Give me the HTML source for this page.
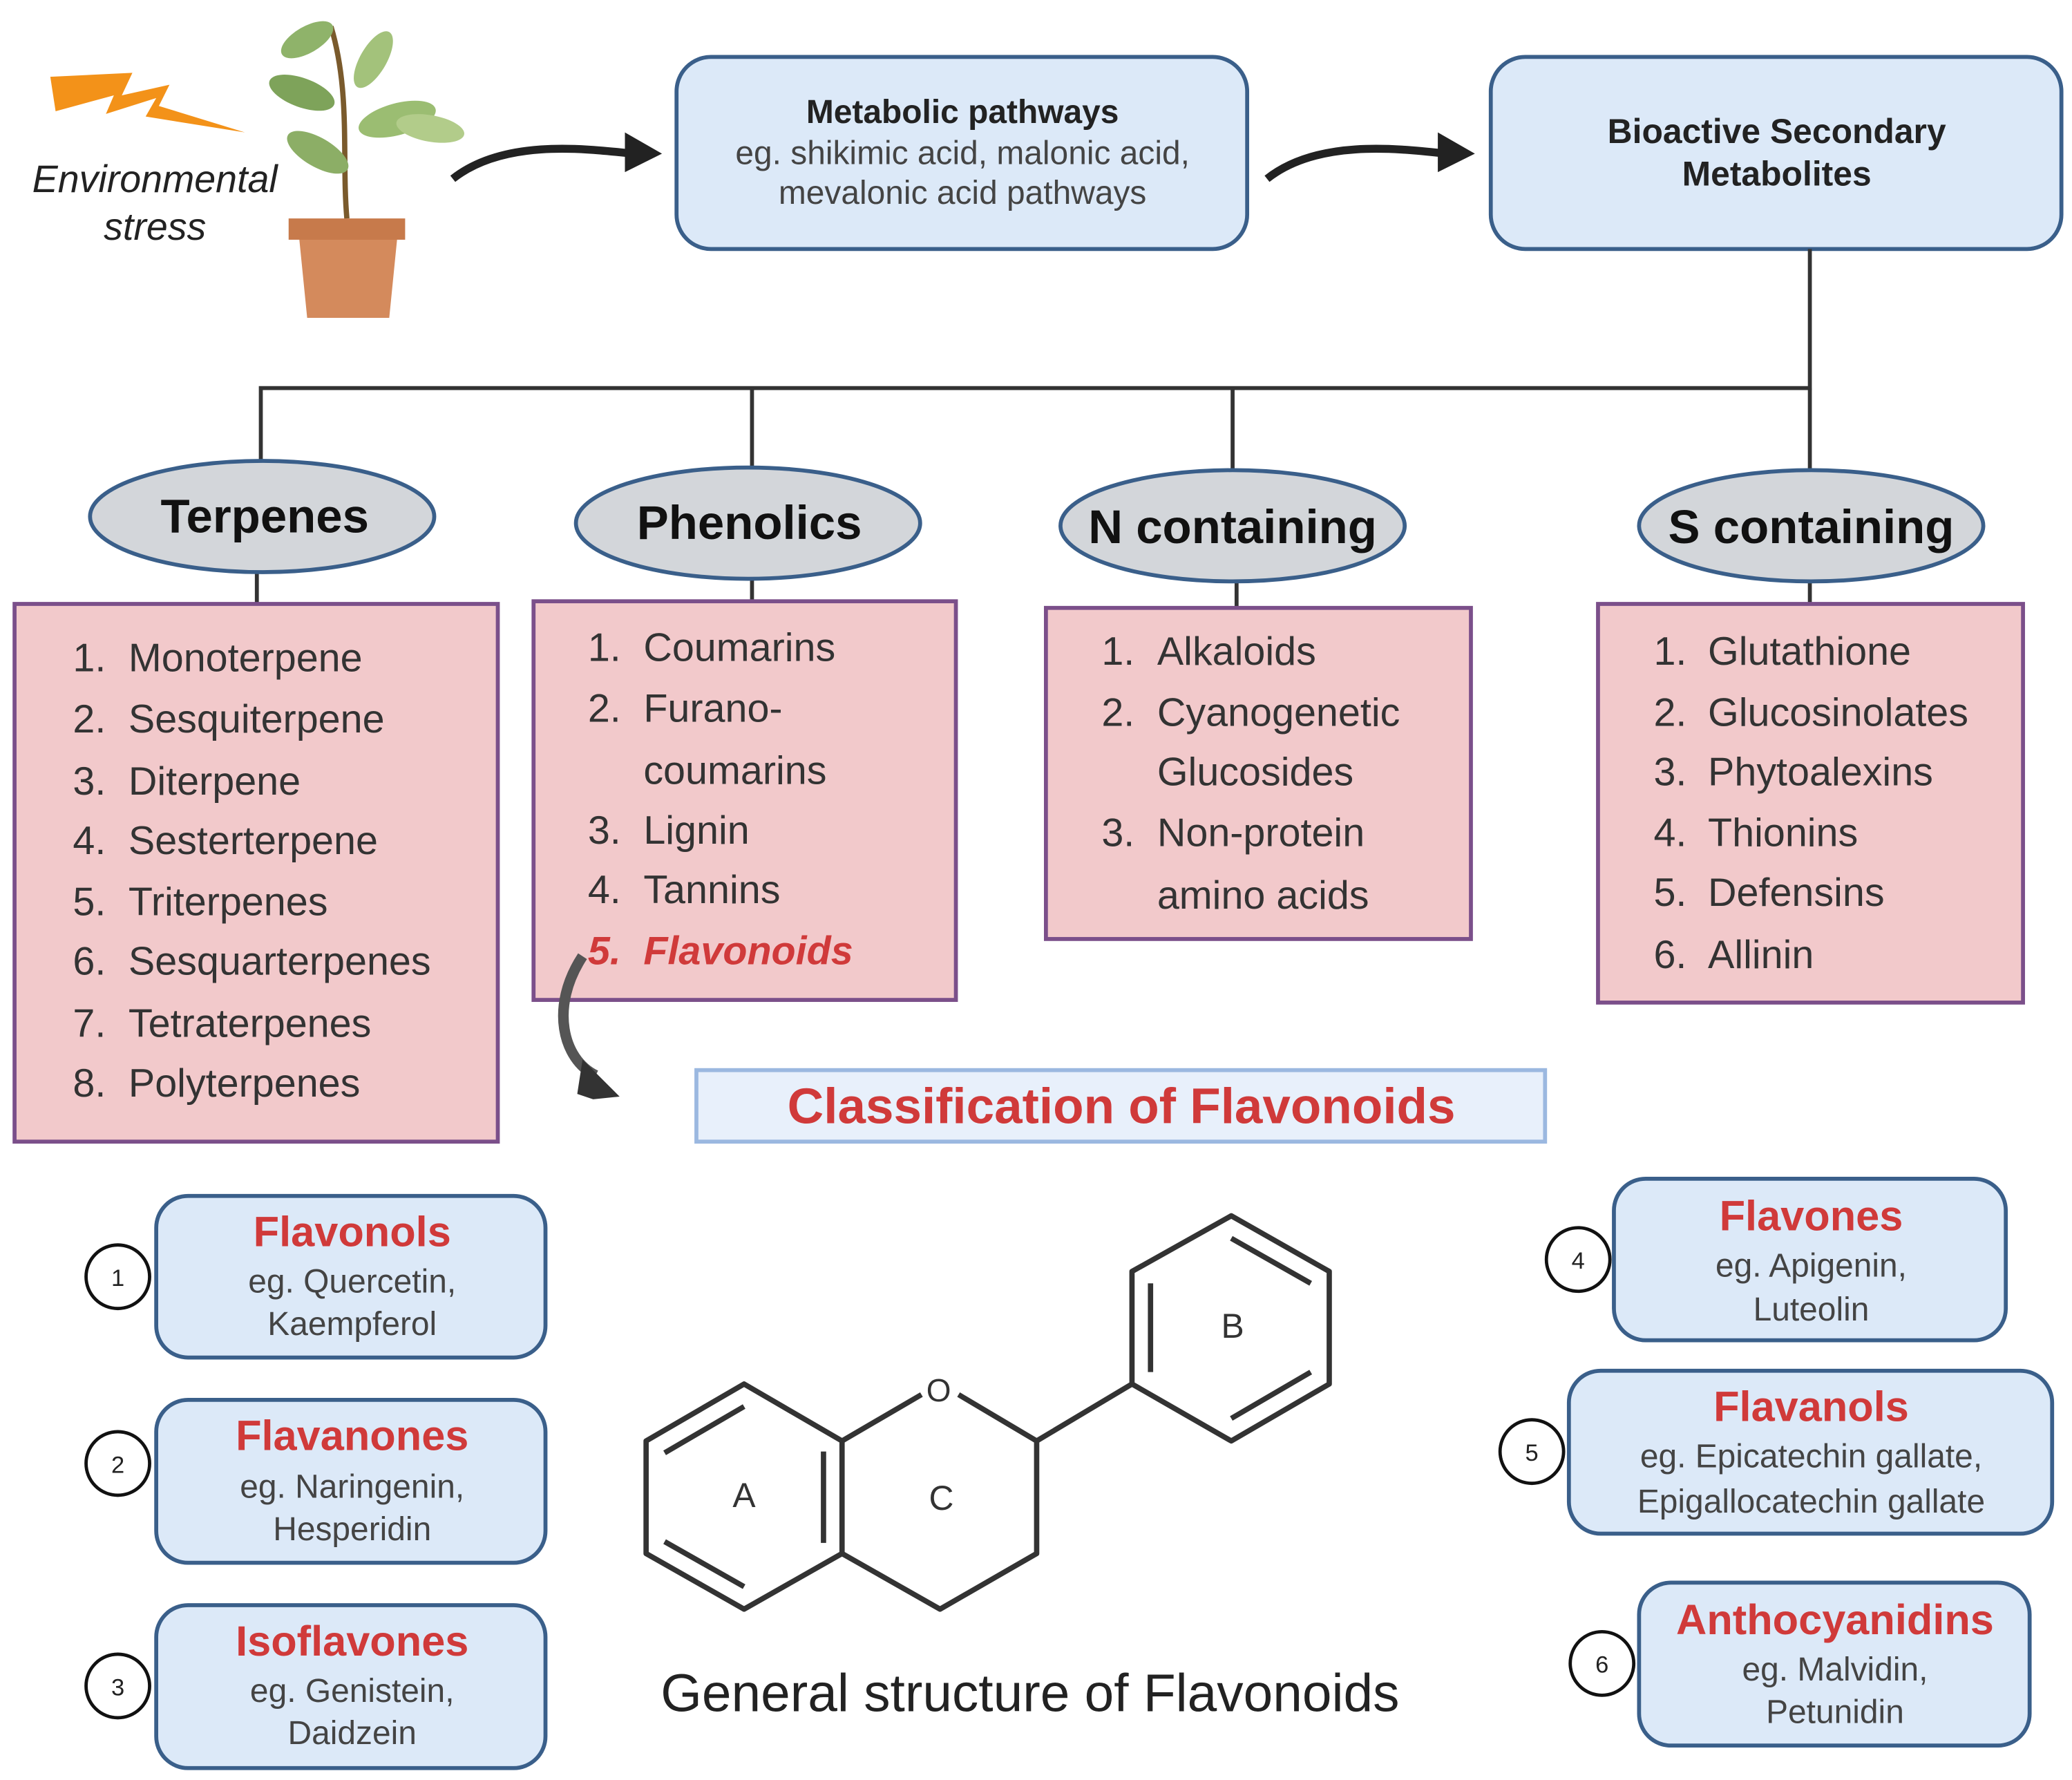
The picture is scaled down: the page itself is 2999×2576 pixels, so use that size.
<!DOCTYPE html>
<html><head><meta charset="utf-8"><style>
html,body{margin:0;padding:0;background:#fff;}
svg{display:block;}
text{font-family:"Liberation Sans",sans-serif;}
</style></head><body>
<svg width="2999" height="2576" viewBox="0 0 1565 1344" preserveAspectRatio="none" xmlns="http://www.w3.org/2000/svg">
<rect width="1565" height="1344" fill="#fff"/>
<!-- lightning -->
<polygon points="38,58 100,55 92,72 128,64 120,80 185,100 110,88 118,74 80,86 86,72 42,84" fill="#f39219"/>
<text x="117" y="145" font-size="29" font-style="italic" text-anchor="middle" fill="#222">Environmental</text>
<text x="117" y="181" font-size="29" font-style="italic" text-anchor="middle" fill="#222">stress</text>
<!-- plant -->
<path d="M262,165 C258,120 265,70 250,20" stroke="#7a5a2c" stroke-width="4" fill="none"/>
<ellipse cx="232" cy="30" rx="22" ry="10" fill="#8fb36a" transform="rotate(-30 232 30)"/>
<ellipse cx="282" cy="45" rx="24" ry="10" fill="#a3c27b" transform="rotate(-60 282 45)"/>
<ellipse cx="228" cy="70" rx="26" ry="11" fill="#7ea35a" transform="rotate(20 228 70)"/>
<ellipse cx="300" cy="90" rx="30" ry="12" fill="#9bbd72" transform="rotate(-15 300 90)"/>
<ellipse cx="240" cy="115" rx="26" ry="11" fill="#8cae66" transform="rotate(30 240 115)"/>
<ellipse cx="325" cy="97" rx="26" ry="10" fill="#b2cc8a" transform="rotate(10 325 97)"/>
<polygon points="218,165 306,165 300,180 294,240 232,240 226,180" fill="#d48a5c"/>
<rect x="218" y="165" width="88" height="16" fill="#c77a4b"/>
<!-- top arrows -->
<path d="M342,135 C380,105 440,112 478,116" stroke="#222" stroke-width="6" fill="none"/>
<polygon points="472,100 500,116 472,130" fill="#222"/>
<path d="M957,135 C995,105 1055,112 1092,116" stroke="#222" stroke-width="6" fill="none"/>
<polygon points="1086,100 1114,116 1086,130" fill="#222"/>
<!-- top boxes -->
<rect x="511" y="43" width="431" height="145" rx="26" fill="#dce9f8" stroke="#3a5f8a" stroke-width="3"/>
<text x="727" y="93" font-size="25" font-weight="bold" text-anchor="middle" fill="#222">Metabolic pathways</text>
<text x="727" y="124" font-size="25" text-anchor="middle" fill="#444">eg. shikimic acid, malonic acid,</text>
<text x="727" y="154" font-size="25" text-anchor="middle" fill="#444">mevalonic acid pathways</text>
<rect x="1126" y="43" width="431" height="145" rx="26" fill="#dce9f8" stroke="#3a5f8a" stroke-width="3"/>
<text x="1342" y="108" font-size="26" font-weight="bold" text-anchor="middle" fill="#222">Bioactive Secondary</text>
<text x="1342" y="140" font-size="26" font-weight="bold" text-anchor="middle" fill="#222">Metabolites</text>
<!-- connectors -->
<g stroke="#333" stroke-width="3" fill="none">
<path d="M1367,188 V293 H197 V350"/>
<path d="M568,293 V354"/><path d="M931,293 V356"/><path d="M1367,293 V356"/>
<path d="M194,432 V456"/><path d="M568,437 V454"/><path d="M934,439 V459"/><path d="M1367,439 V456"/>
</g>
<!-- ellipses -->
<g fill="#d3d6da" stroke="#3a5f8a" stroke-width="3">
<ellipse cx="198" cy="390" rx="130" ry="42"/>
<ellipse cx="565" cy="395" rx="130" ry="42"/>
<ellipse cx="931" cy="397" rx="130" ry="42"/>
<ellipse cx="1368" cy="397" rx="130" ry="42"/>
</g>
<g font-size="36" font-weight="bold" text-anchor="middle" fill="#111">
<text x="200" y="402">Terpenes</text>
<text x="566" y="407">Phenolics</text>
<text x="931" y="410">N containing</text>
<text x="1368" y="410">S containing</text>
</g>
<!-- pink boxes -->
<g fill="#f2c9cb" stroke="#7b4f8a" stroke-width="3">
<rect x="11" y="456" width="365" height="406"/>
<rect x="403" y="454" width="319" height="301"/>
<rect x="790" y="459" width="321" height="250"/>
<rect x="1207" y="456" width="321" height="301"/>
</g>
<g font-size="30" fill="#333">
<text x="55" y="507">1.</text><text x="97" y="507">Monoterpene</text>
<text x="55" y="553">2.</text><text x="97" y="553">Sesquiterpene</text>
<text x="55" y="600">3.</text><text x="97" y="600">Diterpene</text>
<text x="55" y="645">4.</text><text x="97" y="645">Sesterterpene</text>
<text x="55" y="691">5.</text><text x="97" y="691">Triterpenes</text>
<text x="55" y="736">6.</text><text x="97" y="736">Sesquarterpenes</text>
<text x="55" y="783">7.</text><text x="97" y="783">Tetraterpenes</text>
<text x="55" y="828">8.</text><text x="97" y="828">Polyterpenes</text>

<text x="444" y="499">1.</text><text x="486" y="499">Coumarins</text>
<text x="444" y="545">2.</text><text x="486" y="545">Furano-</text>
<text x="486" y="592">coumarins</text>
<text x="444" y="637">3.</text><text x="486" y="637">Lignin</text>
<text x="444" y="682">4.</text><text x="486" y="682">Tannins</text>
<text x="444" y="728" fill="#d03a3a" font-style="italic" font-weight="bold">5.</text><text x="486" y="728" fill="#d03a3a" font-style="italic" font-weight="bold">Flavonoids</text>

<text x="832" y="502">1.</text><text x="874" y="502">Alkaloids</text>
<text x="832" y="548">2.</text><text x="874" y="548">Cyanogenetic</text>
<text x="874" y="593">Glucosides</text>
<text x="832" y="639">3.</text><text x="874" y="639">Non-protein</text>
<text x="874" y="686">amino acids</text>

<text x="1249" y="502">1.</text><text x="1290" y="502">Glutathione</text>
<text x="1249" y="548">2.</text><text x="1290" y="548">Glucosinolates</text>
<text x="1249" y="593">3.</text><text x="1290" y="593">Phytoalexins</text>
<text x="1249" y="639">4.</text><text x="1290" y="639">Thionins</text>
<text x="1249" y="684">5.</text><text x="1290" y="684">Defensins</text>
<text x="1249" y="731">6.</text><text x="1290" y="731">Allinin</text>
</g>
<!-- curved arrow -->
<path d="M440,722 C415,760 425,800 450,812" stroke="#555" stroke-width="8" fill="none"/>
<polygon points="440,800 468,828 448,830 436,826" fill="#333"/>
<!-- classification -->
<rect x="526" y="808" width="641" height="54" fill="#e8f0fb" stroke="#9bb8e0" stroke-width="3"/>
<text x="847" y="848" font-size="38" font-weight="bold" text-anchor="middle" fill="#d03a3a">Classification of Flavonoids</text>
<!-- flavonoid boxes -->
<g fill="#dce9f8" stroke="#3a5f8a" stroke-width="3">
<rect x="118" y="903" width="294" height="122" rx="24"/>
<rect x="118" y="1057" width="294" height="123" rx="24"/>
<rect x="118" y="1212" width="294" height="123" rx="24"/>
<rect x="1219" y="890" width="296" height="122" rx="24"/>
<rect x="1185" y="1035" width="365" height="123" rx="24"/>
<rect x="1238" y="1195" width="295" height="123" rx="24"/>
</g>
<g fill="#fff" stroke="#111" stroke-width="2.5">
<circle cx="89" cy="964" r="24"/><circle cx="89" cy="1105" r="24"/><circle cx="89" cy="1273" r="24"/>
<circle cx="1192" cy="951" r="24"/><circle cx="1157" cy="1096" r="24"/><circle cx="1210" cy="1256" r="24"/>
</g>
<g font-size="18" text-anchor="middle" fill="#222">
<text x="89" y="971">1</text><text x="89" y="1112">2</text><text x="89" y="1280">3</text>
<text x="1192" y="958">4</text><text x="1157" y="1103">5</text><text x="1210" y="1263">6</text>
</g>
<g text-anchor="middle">
<g font-size="32" font-weight="bold" fill="#d03a3a">
<text x="266" y="941">Flavonols</text>
<text x="266" y="1095">Flavanones</text>
<text x="266" y="1250">Isoflavones</text>
<text x="1368" y="929">Flavones</text>
<text x="1368" y="1073">Flavanols</text>
<text x="1386" y="1234">Anthocyanidins</text>
</g>
<g font-size="25" fill="#444">
<text x="266" y="976">eg. Quercetin,</text><text x="266" y="1008">Kaempferol</text>
<text x="266" y="1131">eg. Naringenin,</text><text x="266" y="1163">Hesperidin</text>
<text x="266" y="1285">eg. Genistein,</text><text x="266" y="1317">Daidzein</text>
<text x="1368" y="964">eg. Apigenin,</text><text x="1368" y="997">Luteolin</text>
<text x="1368" y="1108">eg. Epicatechin gallate,</text><text x="1368" y="1142">Epigallocatechin gallate</text>
<text x="1386" y="1269">eg. Malvidin,</text><text x="1386" y="1301">Petunidin</text>
</g>
</g>
<!-- structure -->
<g stroke="#333" stroke-width="4" fill="none" stroke-linejoin="round">
<polygon points="562,1045 636,1088 636,1173 562,1215 488,1173 488,1088"/>
<path d="M636,1088 L696,1053 M724,1053 L783,1088 L783,1173 L710,1215 L636,1173"/>
<path d="M783,1088 L855,1045"/>
<polygon points="930,918 1004,960 1004,1045 930,1088 855,1045 855,960"/>
<path d="M562,1062 L502,1097 M502,1164 L562,1198 M622,1096 L622,1165"/>
<path d="M930,935 L990,969 M990,1036 L930,1071 M869,1036 L869,969"/>
</g>
<text x="709" y="1058" font-size="24" text-anchor="middle" fill="#333">O</text>
<text x="562" y="1138" font-size="26" text-anchor="middle" fill="#333">A</text>
<text x="711" y="1140" font-size="26" text-anchor="middle" fill="#333">C</text>
<text x="931" y="1010" font-size="26" text-anchor="middle" fill="#333">B</text>
<text x="778" y="1292" font-size="40" text-anchor="middle" fill="#222">General structure of Flavonoids</text>
</svg>
</body></html>
